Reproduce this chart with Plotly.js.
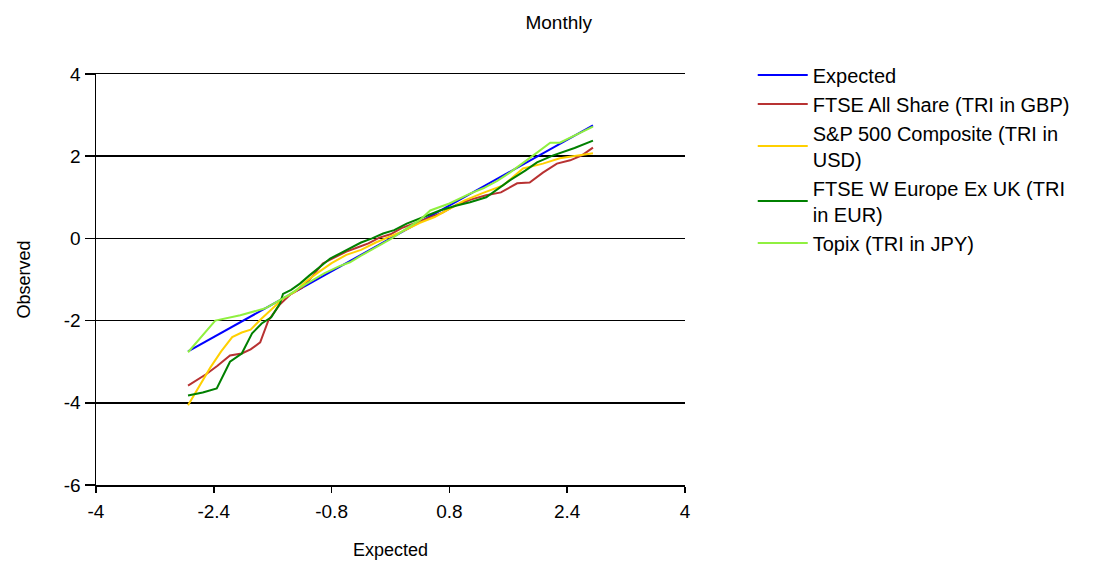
<!DOCTYPE html>
<html>
<head>
<meta charset="utf-8">
<script src="https://cdn.plot.ly/plotly-3.0.1.min.js"></script>
<style>html,body{margin:0;padding:0;background:#fff;}#chart{width:1102px;height:567px;}</style>
</head>
<body>
<div id="chart"></div>
<script>
var seriesNames = ["Expected", "FTSE All Share (TRI in GBP)", "S&P 500 Composite (TRI in<br>USD)", "FTSE W Europe Ex UK (TRI<br>in EUR)", "Topix (TRI in JPY)"];
var seriesColors = ["#0000FF", "#B83232", "#FFD000", "#008000", "#90F040"];

var expectedX = [-2.75, 2.75];
var expectedY = [-2.75, 2.75];

var ftseAllX = [-2.75, -2.5, -2.35, -2.18, -2.02, -1.9, -1.77, -1.66, -1.5, -1.35, -1.2, -1.05, -0.92, -0.85, -0.75, -0.6, -0.45, -0.3, -0.15, 0, 0.15, 0.3, 0.5, 0.7, 0.9, 1.1, 1.3, 1.5, 1.72, 1.89, 2.07, 2.26, 2.44, 2.6, 2.75];
var ftseAllY = [-3.58, -3.3, -3.1, -2.85, -2.8, -2.7, -2.53, -2.0, -1.6, -1.35, -1.2, -0.9, -0.61, -0.55, -0.45, -0.32, -0.22, -0.12, 0.02, 0.1, 0.25, 0.35, 0.48, 0.62, 0.82, 0.95, 1.05, 1.12, 1.34, 1.36, 1.6, 1.82, 1.9, 2.02, 2.21];

var spX = [-2.75, -2.6, -2.45, -2.3, -2.15, -2.02, -1.9, -1.75, -1.6, -1.45, -1.3, -1.15, -1.0, -0.8, -0.6, -0.4, -0.2, 0, 0.2, 0.4, 0.6, 0.8, 1.0, 1.25, 1.53, 1.8, 2.07, 2.3, 2.5, 2.75];
var spY = [-4.06, -3.6, -3.15, -2.75, -2.4, -2.29, -2.22, -1.95, -1.7, -1.45, -1.3, -1.05, -0.85, -0.6, -0.4, -0.28, -0.1, 0.05, 0.2, 0.38, 0.52, 0.72, 0.92, 1.1, 1.29, 1.7, 1.82, 1.95, 2.0, 2.07];

var ftseWX = [-2.75, -2.55, -2.36, -2.25, -2.18, -2.02, -1.88, -1.75, -1.62, -1.5, -1.46, -1.35, -1.23, -1.1, -0.96, -0.82, -0.69, -0.55, -0.4, -0.25, -0.1, 0.05, 0.22, 0.45, 0.67, 0.9, 1.08, 1.3, 1.49, 1.62, 1.83, 1.99, 2.21, 2.5, 2.75];
var ftseWY = [-3.82, -3.75, -3.65, -3.25, -3.0, -2.8, -2.31, -2.07, -1.92, -1.58, -1.35, -1.25, -1.1, -0.9, -0.7, -0.49, -0.37, -0.24, -0.1, 0.0, 0.12, 0.2, 0.36, 0.52, 0.68, 0.8, 0.88, 1.0, 1.24, 1.41, 1.65, 1.85, 2.02, 2.2, 2.38];

var topixX = [-2.75, -2.38, -2.04, -1.85, -1.7, -1.55, -1.4, -1.23, -1.05, -0.9, -0.7, -0.55, -0.4, -0.2, 0, 0.2, 0.4, 0.54, 0.8, 1.08, 1.26, 1.45, 1.62, 1.94, 2.17, 2.3, 2.75];
var topixY = [-2.77, -2.0, -1.87, -1.78, -1.7, -1.55, -1.4, -1.2, -1.0, -0.85, -0.68, -0.58, -0.42, -0.22, -0.02, 0.22, 0.45, 0.68, 0.85, 1.09, 1.22, 1.4, 1.6, 2.02, 2.33, 2.33, 2.72];

var xTicks = [-4, -2.4, -0.8, 0.8, 2.4, 4];
var yTicks = [-6, -4, -2, 0, 2, 4];

var xs = [expectedX, ftseAllX, spX, ftseWX, topixX];
var ys = [expectedY, ftseAllY, spY, ftseWY, topixY];
var traces = [];
for (var i = 0; i < seriesNames.length; i++) {
  traces.push({
    x: xs[i], y: ys[i], type: 'scatter', mode: 'lines', name: seriesNames[i],
    line: {color: seriesColors[i], width: 2}
  });
}
var font = "Liberation Sans, Arial, sans-serif";
var layout = {
  width: 1102, height: 567,
  margin: {l: 96, r: 417, t: 74, b: 82},
  paper_bgcolor: '#fff', plot_bgcolor: '#fff',
  font: {family: font, size: 19, color: '#000'},
  title: {text: 'Monthly', x: 0.507, xref: 'container', xanchor: 'center', y: 0.96, yref: 'container', yanchor: 'middle', font: {family: font, size: 19, color: '#000'}},
  xaxis: {
    range: [-4, 4], tickvals: xTicks, ticktext: xTicks.map(String),
    showgrid: false, zeroline: false, showline: true, mirror: true, linecolor: '#000', linewidth: 1.5,
    ticks: 'outside', ticklen: 6, tickcolor: '#000', tickwidth: 1.5, ticklabelstandoff: 3,
    tickfont: {family: font, size: 19, color: '#000'},
    title: {text: 'Expected', font: {family: font, size: 18, color: '#000'}, standoff: 22}
  },
  yaxis: {
    range: [-6, 4], tickvals: yTicks, ticktext: yTicks.map(String),
    showgrid: true, gridcolor: '#000', gridwidth: 1.5, zeroline: false,
    showline: true, linecolor: '#000', linewidth: 1.5,
    ticks: 'outside', ticklen: 10, tickcolor: '#000', tickwidth: 1.5,
    tickfont: {family: font, size: 19, color: '#000'},
    title: {text: 'Observed', font: {family: font, size: 18, color: '#000'}, standoff: 28}
  },
  legend: {x: 1.115, xanchor: 'left', y: 1.045, yanchor: 'top', itemwidth: 50, font: {family: font, size: 20, color: '#000'}, tracegroupgap: 0, bgcolor: 'rgba(0,0,0,0)'},
  showlegend: true
};
Plotly.newPlot('chart', traces, layout, {displayModeBar: false, staticPlot: true});
</script>
</body>
</html>
